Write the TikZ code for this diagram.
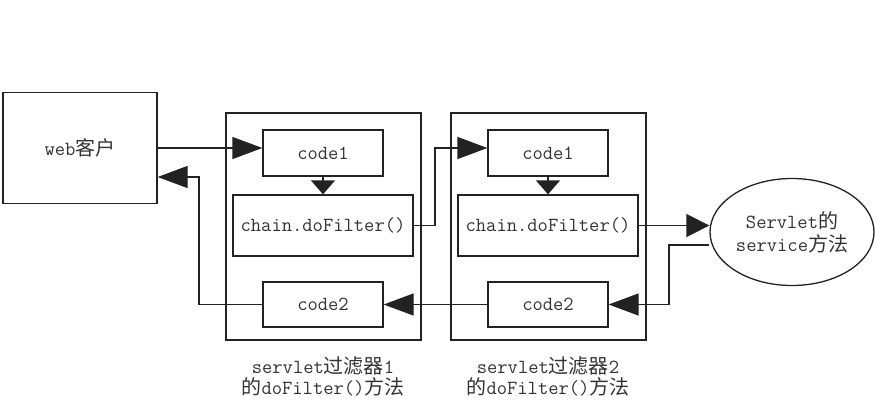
\documentclass[tikz,border=0pt]{standalone}
\usepackage{fontspec}
\usepackage{tikz}
\usepackage{xcolor}
\usetikzlibrary{arrows.meta,positioning,shapes.geometric,calc}
\newfontfamily\cjk{Noto Sans CJK SC}
\definecolor{Ink}{HTML}{222222}
\definecolor{Txt}{HTML}{333333}

\begin{document}
\begin{tikzpicture}[x=1pt,y=-1pt,
  box/.style={draw=Ink,line width=1.3pt,inner sep=0pt,text=Txt,font=\ttfamily\fontsize{20}{23}\selectfont},
  filtercap/.style={text=Txt,align=center,font=\ttfamily\fontsize{20}{21}\selectfont},
  arr/.style={draw=Ink,line width=1.3pt,-{Triangle[length=30pt,width=22pt]}}]
  \useasboundingbox (0,0) rectangle (875,400);
  \node[box,minimum width=154pt,minimum height=111pt] (web) at (80,148) {web{\cjk 客户}};
  % filter 1
  \node[box,minimum width=195pt,minimum height=227pt] (fa) at (323.5,226.5) {};
  \node[box,minimum width=120pt,minimum height=46pt] (c1a) at (323,153) {code1};
  \node[box,minimum width=180pt,minimum height=61pt] (cha) at (323,225.5) {chain.doFilter()};
  \node[box,minimum width=120pt,minimum height=45pt] (c2a) at (323,304.5) {code2};
  \node[filtercap] (la) at (323,376) {servlet{\cjk 过滤器}1\\{\cjk 的}doFilter(){\cjk 方法}};
  % filter 2
  \node[box,minimum width=195pt,minimum height=227pt] (fb) at (548.5,226.5) {};
  \node[box,minimum width=120pt,minimum height=46pt] (c1b) at (548,153) {code1};
  \node[box,minimum width=180pt,minimum height=61pt] (chb) at (548,225.5) {chain.doFilter()};
  \node[box,minimum width=120pt,minimum height=45pt] (c2b) at (548,304.5) {code2};
  \node[filtercap] (lb) at (548,376) {servlet{\cjk 过滤器}2\\{\cjk 的}doFilter(){\cjk 方法}};
  \node[box,ellipse,align=center,minimum width=164pt,minimum height=107pt] (srv) at (792,232) {Servlet{\cjk 的}\\service{\cjk 方法}};
  \coordinate (ba) at (199,177);
  \coordinate (fw) at (435,148);
  \coordinate (bb) at (669,245);
  \draw[arr] (web.east) -- (web.east -| c1a.west);
  \draw[arr,-{Triangle[length=14pt,width=24pt]}] (c1a.south) -- (cha.north);
  \draw[arr] (cha.east) -| (fw) -- (fw -| c1b.west);
  \draw[arr,-{Triangle[length=14pt,width=24pt]}] (c1b.south) -- (chb.north);
  \draw[arr,-{Triangle[length=23pt,width=23pt]}] (chb.east) -- (chb.east -| srv.west);
  \draw[arr] (srv.west |- bb) -- (bb) |- (c2b.east);
  \draw[arr] (c2b.west) -- (c2a.east);
  \draw[arr] (c2a.west) -| (ba) -- (ba -| web.east);
\end{tikzpicture}
\end{document}
